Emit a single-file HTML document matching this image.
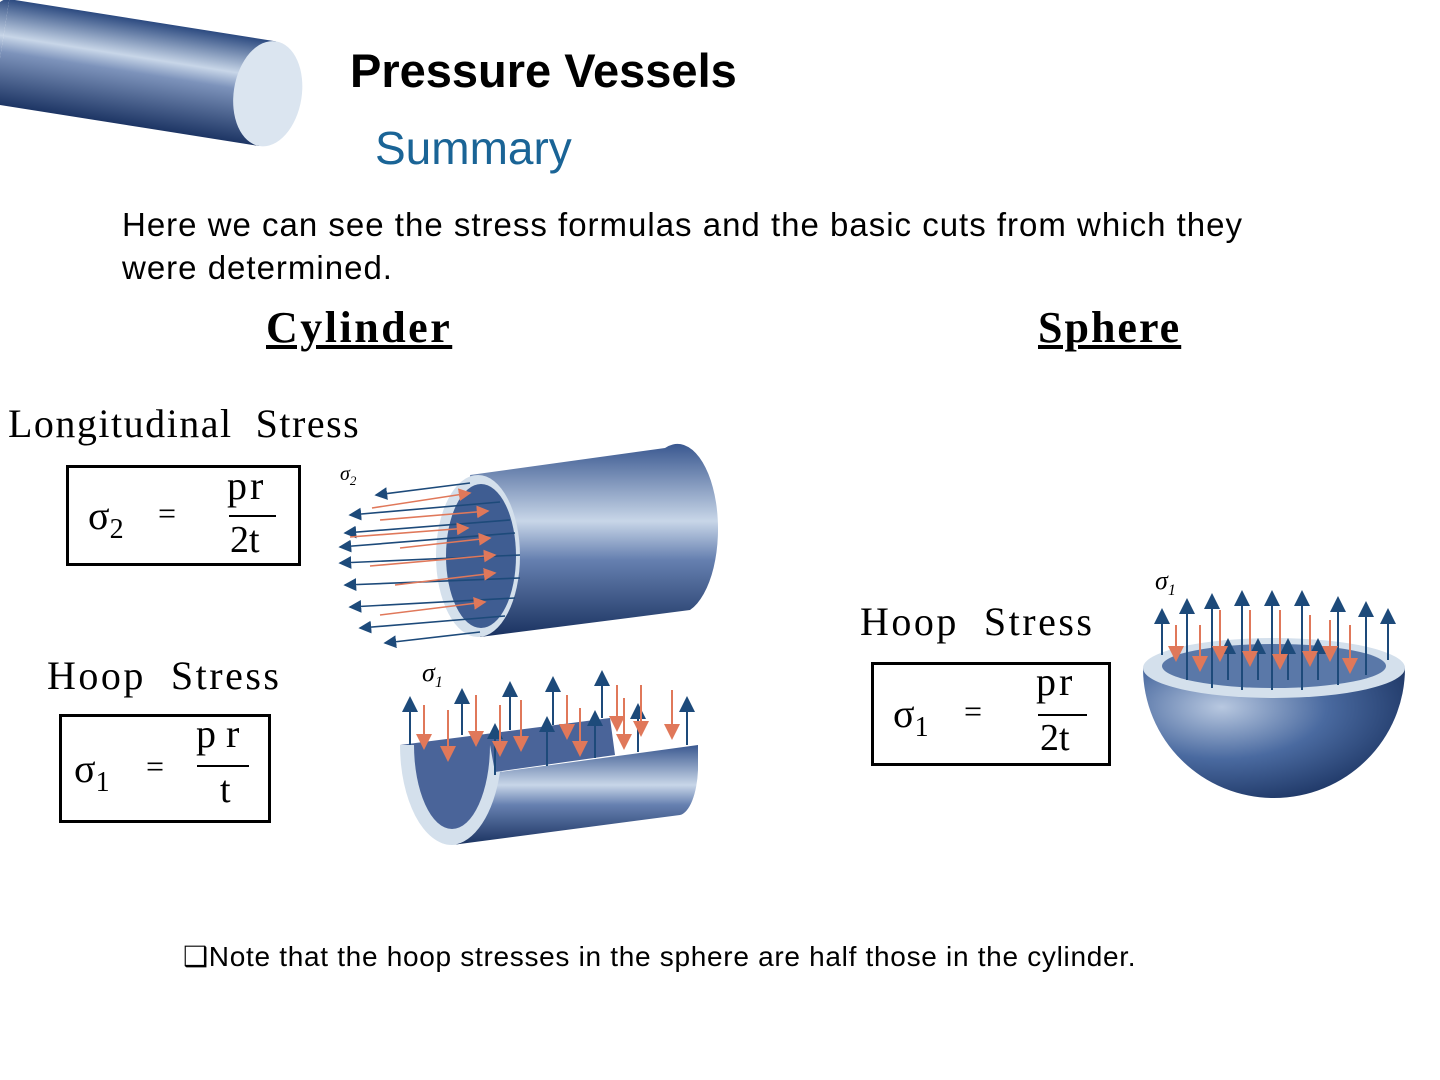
<!DOCTYPE html>
<html><head><meta charset="utf-8"><style>
body{margin:0;width:1440px;height:1080px;background:#fff;overflow:hidden;position:relative;font-family:"Liberation Sans",sans-serif}
.a{position:absolute;white-space:nowrap}
.serif{font-family:"Liberation Serif",serif}
.box{position:absolute;border:3px solid #000;box-sizing:border-box}
</style></head><body>
<svg width="1440" height="1080" style="position:absolute;left:0;top:0">
<defs>
<linearGradient id="g1" x1="0" y1="0" x2="0" y2="1">
<stop offset="0" stop-color="#2c4a80"/><stop offset="0.35" stop-color="#c8d6e8"/><stop offset="0.5" stop-color="#7d93bb"/><stop offset="1" stop-color="#1d3564"/></linearGradient>
<linearGradient id="g2" x1="0" y1="0" x2="0" y2="1">
<stop offset="0" stop-color="#3a5890"/><stop offset="0.4" stop-color="#c8d6e8"/><stop offset="0.6" stop-color="#6680b0"/><stop offset="1" stop-color="#1a3260"/></linearGradient>
<radialGradient id="g3" cx="0.3" cy="0.3" r="0.8"><stop offset="0" stop-color="#b8c8e0"/><stop offset="0.5" stop-color="#4a6aa0"/><stop offset="1" stop-color="#1a3260"/></radialGradient>
<marker id="mb" markerWidth="8" markerHeight="8" refX="7" refY="4" orient="auto"><path d="M0,0L8,4L0,8z" fill="#1d4a7a"/></marker>
<marker id="mr" markerWidth="8" markerHeight="8" refX="7" refY="4" orient="auto"><path d="M0,0L8,4L0,8z" fill="#e0785a"/></marker>
</defs>
<!-- top-left cylinder -->
<g transform="rotate(9 150 70)">
<path d="M0,22 L270,22 L270,128 L0,128 Z" fill="url(#g1)"/>
<path d="M0,22 A22,53 0 0 0 0,128" fill="url(#g1)"/>
<ellipse cx="270" cy="75" rx="34" ry="53" fill="#dbe5f0"/>
</g>
<!-- cylinder with arrows -->
<path d="M470,475 L665,448 A40,84 0 0 1 690,610 L480,637 Z" fill="url(#g2)"/>
<ellipse cx="478" cy="556" rx="42" ry="81" fill="#d4e0ec"/>
<ellipse cx="481" cy="556" rx="35" ry="72" fill="#3f5d92"/>
<g stroke-width="1.6">
<line x1="470" y1="483" x2="376" y2="495" stroke="#1d4a7a" marker-end="url(#mb)"/>
<line x1="372" y1="508" x2="470" y2="493" stroke="#e0785a" marker-end="url(#mr)"/>
<line x1="500" y1="502" x2="350" y2="515" stroke="#1d4a7a" marker-end="url(#mb)"/>
<line x1="380" y1="520" x2="488" y2="511" stroke="#e0785a" marker-end="url(#mr)"/>
<line x1="510" y1="520" x2="345" y2="533" stroke="#1d4a7a" marker-end="url(#mb)"/>
<line x1="350" y1="537" x2="468" y2="528" stroke="#e0785a" marker-end="url(#mr)"/>
<line x1="515" y1="533" x2="340" y2="547" stroke="#1d4a7a" marker-end="url(#mb)"/>
<line x1="400" y1="548" x2="490" y2="538" stroke="#e0785a" marker-end="url(#mr)"/>
<line x1="520" y1="555" x2="340" y2="563" stroke="#1d4a7a" marker-end="url(#mb)"/>
<line x1="370" y1="566" x2="495" y2="555" stroke="#e0785a" marker-end="url(#mr)"/>
<line x1="520" y1="578" x2="345" y2="585" stroke="#1d4a7a" marker-end="url(#mb)"/>
<line x1="395" y1="585" x2="495" y2="573" stroke="#e0785a" marker-end="url(#mr)"/>
<line x1="515" y1="598" x2="350" y2="607" stroke="#1d4a7a" marker-end="url(#mb)"/>
<line x1="380" y1="615" x2="485" y2="602" stroke="#e0785a" marker-end="url(#mr)"/>
<line x1="505" y1="616" x2="360" y2="628" stroke="#1d4a7a" marker-end="url(#mb)"/>
<line x1="480" y1="632" x2="385" y2="643" stroke="#1d4a7a" marker-end="url(#mb)"/>
</g>
<!-- half cylinder -->
<path d="M400,745 A52,100 0 0 0 504,745 Z" fill="#d4e0ec"/>
<path d="M414,745 A38,84 0 0 0 490,745 Z" fill="#4a6499"/>
<path d="M400,745 L610,718 L615,755 L495,772 L490,745 L414,745 Z" fill="#4a6499"/>
<path d="M500,772 L698,745 L698,770 A20,50 0 0 1 680,815 L452,845 A52,100 0 0 0 500,772 Z" fill="url(#g2)"/>
<g stroke-width="2">
<line x1="410" y1="745" x2="410" y2="698" stroke="#1d4a7a" marker-end="url(#mb)"/>
<line x1="462" y1="735" x2="462" y2="690" stroke="#1d4a7a" marker-end="url(#mb)"/>
<line x1="510" y1="730" x2="510" y2="683" stroke="#1d4a7a" marker-end="url(#mb)"/>
<line x1="553" y1="725" x2="553" y2="678" stroke="#1d4a7a" marker-end="url(#mb)"/>
<line x1="602" y1="718" x2="602" y2="672" stroke="#1d4a7a" marker-end="url(#mb)"/>
<line x1="495" y1="775" x2="495" y2="725" stroke="#1d4a7a" marker-end="url(#mb)"/>
<line x1="547" y1="766" x2="547" y2="718" stroke="#1d4a7a" marker-end="url(#mb)"/>
<line x1="595" y1="758" x2="595" y2="712" stroke="#1d4a7a" marker-end="url(#mb)"/>
<line x1="638" y1="752" x2="638" y2="705" stroke="#1d4a7a" marker-end="url(#mb)"/>
<line x1="687" y1="745" x2="687" y2="698" stroke="#1d4a7a" marker-end="url(#mb)"/>
<g stroke="#e0785a"><line x1="424" y1="705" x2="424" y2="748" marker-end="url(#mr)"/>
<line x1="448" y1="710" x2="448" y2="760" marker-end="url(#mr)"/>
<line x1="476" y1="695" x2="476" y2="745" marker-end="url(#mr)"/>
<line x1="500" y1="705" x2="500" y2="755" marker-end="url(#mr)"/>
<line x1="521" y1="700" x2="521" y2="750" marker-end="url(#mr)"/>
<line x1="567" y1="695" x2="567" y2="738" marker-end="url(#mr)"/>
<line x1="580" y1="708" x2="580" y2="755" marker-end="url(#mr)"/>
<line x1="617" y1="685" x2="617" y2="730" marker-end="url(#mr)"/>
<line x1="624" y1="698" x2="624" y2="748" marker-end="url(#mr)"/>
<line x1="641" y1="685" x2="641" y2="735" marker-end="url(#mr)"/>
<line x1="672" y1="690" x2="672" y2="738" marker-end="url(#mr)"/></g>
</g>
<!-- hemisphere -->
<path d="M1143,668 A131,130 0 0 0 1405,668 Z" fill="url(#g3)"/>
<ellipse cx="1274" cy="668" rx="131" ry="30" fill="#d4e0ec"/>
<ellipse cx="1274" cy="666" rx="112" ry="22" fill="#5a78a8"/>
<g stroke-width="2">
<g stroke="#1d4a7a">
<line x1="1162" y1="655" x2="1162" y2="610" marker-end="url(#mb)"/>
<line x1="1187" y1="680" x2="1187" y2="600" marker-end="url(#mb)"/>
<line x1="1212" y1="688" x2="1212" y2="595" marker-end="url(#mb)"/>
<line x1="1242" y1="690" x2="1242" y2="592" marker-end="url(#mb)"/>
<line x1="1272" y1="690" x2="1272" y2="592" marker-end="url(#mb)"/>
<line x1="1302" y1="690" x2="1302" y2="592" marker-end="url(#mb)"/>
<line x1="1338" y1="685" x2="1338" y2="598" marker-end="url(#mb)"/>
<line x1="1366" y1="675" x2="1366" y2="603" marker-end="url(#mb)"/>
<line x1="1388" y1="660" x2="1388" y2="610" marker-end="url(#mb)"/>
<line x1="1228" y1="680" x2="1228" y2="640" marker-end="url(#mb)"/>
<line x1="1258" y1="680" x2="1258" y2="640" marker-end="url(#mb)"/>
<line x1="1288" y1="680" x2="1288" y2="640" marker-end="url(#mb)"/>
<line x1="1318" y1="680" x2="1318" y2="640" marker-end="url(#mb)"/></g>
<g stroke="#e0785a">
<line x1="1176" y1="625" x2="1176" y2="660" marker-end="url(#mr)"/>
<line x1="1200" y1="625" x2="1200" y2="670" marker-end="url(#mr)"/>
<line x1="1220" y1="610" x2="1220" y2="660" marker-end="url(#mr)"/>
<line x1="1250" y1="610" x2="1250" y2="665" marker-end="url(#mr)"/>
<line x1="1280" y1="610" x2="1280" y2="668" marker-end="url(#mr)"/>
<line x1="1310" y1="615" x2="1310" y2="665" marker-end="url(#mr)"/>
<line x1="1330" y1="620" x2="1330" y2="660" marker-end="url(#mr)"/>
<line x1="1350" y1="625" x2="1350" y2="672" marker-end="url(#mr)"/></g>
</g>
</svg>
<div class="a" style="left:350px;top:43px;font-size:47px;font-weight:bold">Pressure Vessels</div>
<div class="a" style="left:375px;top:121px;font-size:46px;color:#1a6496">Summary</div>
<div class="a" style="left:122px;top:203px;font-size:33px;line-height:43px;white-space:normal;width:1170px;letter-spacing:1px">Here we can see the stress formulas and the basic cuts from which they were determined.</div>
<div class="a serif" style="left:266px;top:302px;font-size:44px;font-weight:bold;text-decoration:underline;letter-spacing:2.5px">Cylinder</div>
<div class="a serif" style="left:1038px;top:302px;font-size:44px;font-weight:bold;text-decoration:underline;letter-spacing:2px">Sphere</div>
<div class="a serif" style="left:8px;top:400px;font-size:40px;letter-spacing:1.5px">Longitudinal&nbsp; Stress</div>
<div class="a serif" style="left:47px;top:652px;font-size:40px;letter-spacing:2.5px">Hoop&nbsp; Stress</div>
<div class="a serif" style="left:860px;top:598px;font-size:40px;letter-spacing:2.5px">Hoop&nbsp; Stress</div>
<div class="a serif" style="left:340px;top:463px;font-size:20px;font-style:italic">σ<sub style="font-size:13px">2</sub></div>
<div class="a serif" style="left:422px;top:658px;font-size:26px;font-style:italic">σ<sub style="font-size:16px">1</sub></div>
<div class="a serif" style="left:1155px;top:566px;font-size:26px;font-style:italic">σ<sub style="font-size:16px">1</sub></div>

<div class="box" style="left:66px;top:465px;width:235px;height:101px"></div>
<div class="a serif" style="left:88px;top:492px;font-size:40px">σ<sub style="font-size:28px">2</sub></div>
<div class="a serif" style="left:158px;top:495px;font-size:32px">=</div>
<div class="a serif" style="left:227px;top:462px;font-size:40px;letter-spacing:3px">pr</div>
<div class="a" style="left:229px;top:515px;width:47px;border-top:2px solid #000"></div>
<div class="a serif" style="left:230px;top:518px;font-size:38px">2t</div>

<div class="box" style="left:59px;top:714px;width:212px;height:109px"></div>
<div class="a serif" style="left:74px;top:745px;font-size:40px">σ<sub style="font-size:28px">1</sub></div>
<div class="a serif" style="left:146px;top:748px;font-size:32px">=</div>
<div class="a serif" style="left:196px;top:710px;font-size:40px">p r</div>
<div class="a" style="left:197px;top:765px;width:52px;border-top:2px solid #000"></div>
<div class="a serif" style="left:220px;top:768px;font-size:38px">t</div>

<div class="box" style="left:871px;top:662px;width:240px;height:104px"></div>
<div class="a serif" style="left:893px;top:690px;font-size:40px">σ<sub style="font-size:28px">1</sub></div>
<div class="a serif" style="left:964px;top:693px;font-size:32px">=</div>
<div class="a serif" style="left:1036px;top:658px;font-size:40px;letter-spacing:3px">pr</div>
<div class="a" style="left:1038px;top:714px;width:49px;border-top:2px solid #000"></div>
<div class="a serif" style="left:1040px;top:716px;font-size:38px">2t</div>

<div class="a" style="left:183px;top:940px;font-size:28px;letter-spacing:0.7px">❑Note that the hoop stresses in the sphere are half those in the cylinder.</div>
</body></html>
